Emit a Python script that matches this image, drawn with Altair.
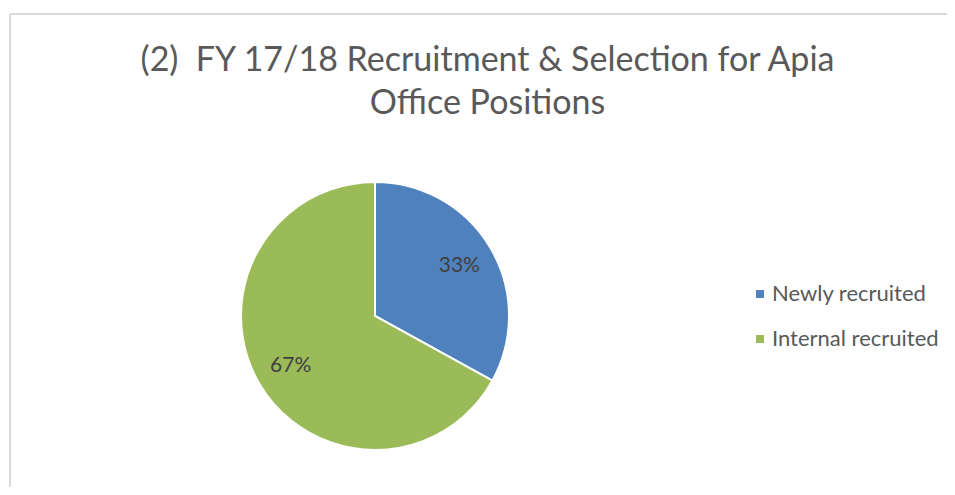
import altair as alt
import pandas as pd

categories = ["Newly recruited", "Internal recruited"]
shares = [33, 67]
labels = ["33%", "67%"]
colors = ["#4F81BD", "#9BBB59"]
title_lines = ["(2)\u00a0 FY 17/18 Recruitment & Selection for Apia", "Office Positions"]

df = pd.DataFrame({"category": categories, "share": shares, "label": labels,
                   "order": list(range(len(categories)))})

W, H = 937, 473
CX, CY = 365, 302
FONT = "Lato"

base = alt.Chart(df).encode(
    theta=alt.Theta("share:Q", stack=True),
    order=alt.Order("order:Q"),
)

arc = base.mark_arc(radius=134, stroke="white", strokeWidth=2).encode(
    color=alt.Color(
        "category:N",
        scale=alt.Scale(domain=categories, range=colors),
        legend=alt.Legend(
            title=None, orient="none", legendX=739, legendY=269,
            symbolType="square", symbolSize=64, symbolStrokeWidth=0,
            labelFont=FONT, labelFontSize=22, labelColor="#595959",
            labelOffset=1, rowPadding=23, padding=0, labelLimit=400,
        ),
    ),
    x=alt.value(CX), y=alt.value(CY),
)

text = base.mark_text(radius=98, fontSize=21, color="#404040", font=FONT).encode(
    text="label:N", x=alt.value(CX), y=alt.value(CY),
)

border_data = alt.Data(values=[{"k": 0}])
vline = alt.Chart(border_data).mark_rule(color="#d9d9d9", strokeWidth=2).encode(
    x=alt.value(0), y=alt.value(0), y2=alt.value(H + 10))
hline = alt.Chart(border_data).mark_rule(color="#d9d9d9", strokeWidth=2).encode(
    x=alt.value(0), x2=alt.value(W + 10), y=alt.value(0))

chart = alt.layer(vline, hline, arc, text).properties(
    width=W, height=H,
    title=alt.TitleParams(
        text=title_lines, font=FONT, fontSize=34, fontWeight="normal",
        color="#595959", anchor="middle", frame="group", baseline="top",
        offset=-108, dx=9, lineHeight=43,
    ),
    autosize=alt.AutoSizeParams(type="none"),
    padding={"left": 2, "top": 6, "right": 0, "bottom": 0},
).configure_view(strokeWidth=0)

chart.save("out.html", embed_options={"renderer": "svg", "actions": False})
